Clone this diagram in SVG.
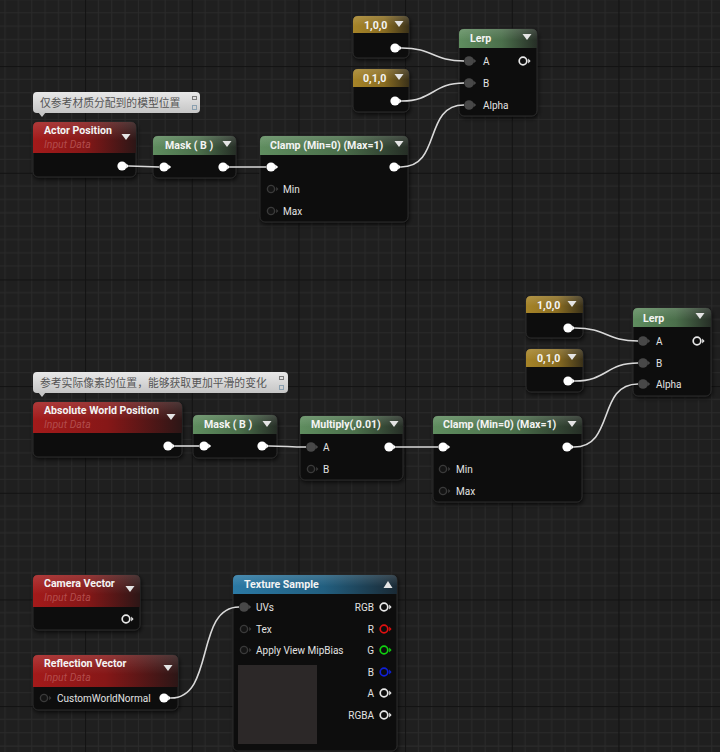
<svg xmlns="http://www.w3.org/2000/svg" width="720" height="752" viewBox="0 0 720 752">
<defs>
<style>
.body{fill:#111111;stroke:#2a2a2a;stroke-width:1;filter:url(#sh)}
.t{font-family:Roboto,"Liberation Sans",sans-serif;font-weight:bold;font-size:10.6px;fill:#f4f4f4}
.s{font-family:Roboto,"Liberation Sans",sans-serif;font-style:italic;font-size:10.5px;fill:#b24c4c}
.l{font-family:Roboto,"Liberation Sans",sans-serif;font-size:10px;fill:#e2e2e2}
.c{font-family:"Noto Sans CJK SC","Noto Sans",sans-serif;font-size:10.8px;fill:#555555}
.wire{fill:none;stroke:#d9d9d9;stroke-width:1.6}
.gl{fill:url(#gloss)}
.dd{fill:#e4e4e4}
</style>
<pattern id="grid" patternUnits="userSpaceOnUse" x="85.1" y="66.1" width="106.667" height="106.667">
<rect width="106.667" height="106.667" fill="#1f1f1f"/>
<path d="M13.33 0V107M26.67 0V107M40 0V107M53.33 0V107M66.67 0V107M80 0V107M93.33 0V107M0 13.33H107M0 26.67H107M0 40H107M0 53.33H107M0 66.67H107M0 80H107M0 93.33H107" stroke="#2a2a2a" stroke-width="1"/>
<path d="M0.5 0V107M0 0.5H107" stroke="#121212" stroke-width="1"/>
</pattern>
<filter id="sh" x="-10%" y="-10%" width="125%" height="135%">
<feDropShadow dx="1" dy="2" stdDeviation="2" flood-color="#000" flood-opacity="0.7"/>
</filter>
<linearGradient id="hRed" x1="0" y1="0" x2="1" y2="0">
<stop offset="0" stop-color="#a31a1a"/><stop offset="0.5" stop-color="#861717"/><stop offset="1" stop-color="#2c1616"/>
</linearGradient>
<linearGradient id="hGreen" x1="0" y1="0" x2="1" y2="0">
<stop offset="0" stop-color="#5f8d5f"/><stop offset="0.55" stop-color="#4b6f4b"/><stop offset="1" stop-color="#262e26"/>
</linearGradient>
<linearGradient id="hGold" x1="0" y1="0" x2="1" y2="0">
<stop offset="0" stop-color="#a68428"/><stop offset="0.55" stop-color="#8a6d22"/><stop offset="1" stop-color="#3a3119"/>
</linearGradient>
<linearGradient id="hBlue" x1="0" y1="0" x2="1" y2="0">
<stop offset="0" stop-color="#2b79a4"/><stop offset="0.55" stop-color="#225f80"/><stop offset="1" stop-color="#1a2a35"/>
</linearGradient>
<linearGradient id="gloss" x1="0" y1="0" x2="0" y2="1">
<stop offset="0" stop-color="#fff" stop-opacity="0.14"/><stop offset="0.6" stop-color="#fff" stop-opacity="0"/>
</linearGradient>
<linearGradient id="cg" x1="0" y1="0" x2="0" y2="1">
<stop offset="0" stop-color="#e8e8e8"/><stop offset="1" stop-color="#c6c6c6"/>
</linearGradient>
<g id="pOn"><circle r="4.6" fill="#ffffff"/><path d="M4.2 -2.6L7.2 0L4.2 2.6Z" fill="#ffffff"/></g>
<g id="pOff"><circle r="3.6" fill="#141414" stroke="#3a3a3a" stroke-width="1.4"/><path d="M5.2 -2.2L7.4 0L5.2 2.2Z" fill="#3a3a3a"/></g>
<g id="pGray"><circle r="4.8" fill="#484848"/><path d="M4.4 -2.6L7.2 0L4.4 2.6Z" fill="#484848"/></g>
<g id="pOut"><circle r="3.8" fill="none" stroke="currentColor" stroke-width="1.7"/><path d="M5.2 -2.4L7.6 0L5.2 2.4Z" fill="currentColor"/></g>
<path id="ddn" d="M-4.5 -3H4.5L0 3Z"/>
</defs>

<rect width="720" height="752" fill="url(#grid)"/>

<g id="comment-1">
<rect x="33" y="92" width="167" height="21" rx="4" fill="url(#cg)"/>
<path d="M38 112H46L42 117Z" fill="#c6c6c6"/>
<text class="c" x="40" y="107">仅参考材质分配到的模型位置</text>
<rect x="192.5" y="96.5" width="4" height="3" fill="none" stroke="#7a7a7a" stroke-width="1"/>
<rect x="192.5" y="105.5" width="4" height="4" fill="none" stroke="#8aa0b0" stroke-width="1"/>
</g>

<g id="actor-position">
<rect class="body" x="33" y="122" width="103" height="55" rx="5"/>
<path fill="url(#hRed)" d="M33 153V127Q33 122 38 122H131Q136 122 136 127V153Z"/>
<path class="gl" d="M33 153V127Q33 122 38 122H131Q136 122 136 127V153Z"/>
<text class="t" x="44" y="134">Actor Position</text>
<text class="s" x="44" y="148">Input Data</text>
<use href="#ddn" class="dd" x="126" y="137"/>
<use href="#pOn" x="122" y="166"/>
</g>

<g id="mask-1">
<rect class="body" x="153" y="136" width="83" height="42" rx="5"/>
<path fill="url(#hGreen)" d="M153 155V141Q153 136 158 136H231Q236 136 236 141V155Z"/>
<path class="gl" d="M153 155V141Q153 136 158 136H231Q236 136 236 141V155Z"/>
<text class="t" x="165" y="149">Mask ( B )</text>
<use href="#ddn" class="dd" x="227" y="144"/>
<use href="#pOn" x="164" y="167"/>
<use href="#pOn" x="223" y="167"/>
</g>

<g id="clamp-1">
<rect class="body" x="260" y="136" width="148" height="86" rx="5"/>
<path fill="url(#hGreen)" d="M260 155V141Q260 136 265 136H403Q408 136 408 141V155Z"/>
<path class="gl" d="M260 155V141Q260 136 265 136H403Q408 136 408 141V155Z"/>
<text class="t" x="270" y="149">Clamp (Min=0) (Max=1)</text>
<use href="#ddn" class="dd" x="399" y="144"/>
<use href="#pOn" x="271" y="167"/>
<use href="#pOn" x="394" y="167"/>
<use href="#pOff" x="271" y="189"/>
<text class="l" x="283" y="192.5">Min</text>
<use href="#pOff" x="271" y="211"/>
<text class="l" x="283" y="214.5">Max</text>
</g>

<g id="const-100-1">
<rect class="body" x="353" y="16" width="56" height="42" rx="5"/>
<path fill="url(#hGold)" d="M353 33V21Q353 16 358 16H404Q409 16 409 21V33Z"/>
<path class="gl" d="M353 33V21Q353 16 358 16H404Q409 16 409 21V33Z"/>
<text class="t" x="364" y="28.5">1,0,0</text>
<use href="#ddn" class="dd" x="399" y="24"/>
<use href="#pOn" x="395" y="48"/>
</g>

<g id="const-010-1">
<rect class="body" x="353" y="69" width="56" height="43" rx="5"/>
<path fill="url(#hGold)" d="M353 87V74Q353 69 358 69H404Q409 69 409 74V87Z"/>
<path class="gl" d="M353 87V74Q353 69 358 69H404Q409 69 409 74V87Z"/>
<text class="t" x="363" y="82">0,1,0</text>
<use href="#ddn" class="dd" x="399" y="77"/>
<use href="#pOn" x="395" y="101"/>
</g>

<g id="lerp-1">
<rect class="body" x="459" y="29" width="78" height="87" rx="5"/>
<path fill="url(#hGreen)" d="M459 48V34Q459 29 464 29H532Q537 29 537 34V48Z"/>
<path class="gl" d="M459 48V34Q459 29 464 29H532Q537 29 537 34V48Z"/>
<text class="t" x="470" y="42">Lerp</text>
<use href="#ddn" class="dd" x="527" y="37"/>
<use href="#pGray" x="469" y="61"/>
<text class="l" x="483" y="64.5">A</text>
<use href="#pGray" x="469" y="83"/>
<text class="l" x="483" y="86.5">B</text>
<use href="#pGray" x="469" y="105"/>
<text class="l" x="483" y="108.5">Alpha</text>
<use href="#pOut" x="523" y="61" color="#e8e8e8"/>
</g>

<g id="comment-2">
<rect x="33" y="372" width="255" height="21" rx="4" fill="url(#cg)"/>
<path d="M38 392H46L42 397Z" fill="#c6c6c6"/>
<text class="c" x="40" y="387">参考实际像素的位置，能够获取更加平滑的变化</text>
<rect x="279.5" y="376.5" width="4" height="3" fill="none" stroke="#7a7a7a" stroke-width="1"/>
<rect x="279.5" y="385.5" width="4" height="4" fill="none" stroke="#8aa0b0" stroke-width="1"/>
</g>

<g id="absolute-world-position">
<rect class="body" x="33" y="402" width="149" height="55" rx="5"/>
<path fill="url(#hRed)" d="M33 433V407Q33 402 38 402H177Q182 402 182 407V433Z"/>
<path class="gl" d="M33 433V407Q33 402 38 402H177Q182 402 182 407V433Z"/>
<text class="t" x="44" y="414">Absolute World Position</text>
<text class="s" x="44" y="428">Input Data</text>
<use href="#ddn" class="dd" x="171" y="417"/>
<use href="#pOn" x="168" y="446"/>
</g>

<g id="mask-2">
<rect class="body" x="193" y="415" width="84" height="43" rx="5"/>
<path fill="url(#hGreen)" d="M193 434V420Q193 415 198 415H272Q277 415 277 420V434Z"/>
<path class="gl" d="M193 434V420Q193 415 198 415H272Q277 415 277 420V434Z"/>
<text class="t" x="204" y="428">Mask ( B )</text>
<use href="#ddn" class="dd" x="267" y="424"/>
<use href="#pOn" x="204" y="446"/>
<use href="#pOn" x="262" y="446"/>
</g>

<g id="multiply">
<rect class="body" x="300" y="416" width="103" height="64" rx="5"/>
<path fill="url(#hGreen)" d="M300 434V421Q300 416 305 416H398Q403 416 403 421V434Z"/>
<path class="gl" d="M300 434V421Q300 416 305 416H398Q403 416 403 421V434Z"/>
<text class="t" x="311" y="428">Multiply(,0.01)</text>
<use href="#ddn" class="dd" x="394" y="424"/>
<use href="#pGray" x="311" y="447"/>
<text class="l" x="323" y="450.5">A</text>
<use href="#pOff" x="311" y="469"/>
<text class="l" x="323" y="472.5">B</text>
<use href="#pOn" x="389" y="447"/>
</g>

<g id="clamp-2">
<rect class="body" x="433" y="416" width="149" height="86" rx="5"/>
<path fill="url(#hGreen)" d="M433 434V421Q433 416 438 416H577Q582 416 582 421V434Z"/>
<path class="gl" d="M433 434V421Q433 416 438 416H577Q582 416 582 421V434Z"/>
<text class="t" x="443" y="428">Clamp (Min=0) (Max=1)</text>
<use href="#ddn" class="dd" x="572" y="424"/>
<use href="#pOn" x="443" y="447"/>
<use href="#pOn" x="567" y="447"/>
<use href="#pOff" x="443" y="469"/>
<text class="l" x="456" y="472.5">Min</text>
<use href="#pOff" x="443" y="491"/>
<text class="l" x="456" y="494.5">Max</text>
</g>

<g id="const-100-2">
<rect class="body" x="526" y="296" width="57" height="42" rx="5"/>
<path fill="url(#hGold)" d="M526 313V301Q526 296 531 296H578Q583 296 583 301V313Z"/>
<path class="gl" d="M526 313V301Q526 296 531 296H578Q583 296 583 301V313Z"/>
<text class="t" x="537" y="308.5">1,0,0</text>
<use href="#ddn" class="dd" x="572" y="304"/>
<use href="#pOn" x="568" y="328"/>
</g>

<g id="const-010-2">
<rect class="body" x="526" y="349" width="57" height="43" rx="5"/>
<path fill="url(#hGold)" d="M526 367V354Q526 349 531 349H578Q583 349 583 354V367Z"/>
<path class="gl" d="M526 367V354Q526 349 531 349H578Q583 349 583 354V367Z"/>
<text class="t" x="537" y="362">0,1,0</text>
<use href="#ddn" class="dd" x="572" y="357"/>
<use href="#pOn" x="568" y="381"/>
</g>

<g id="lerp-2">
<rect class="body" x="633" y="308" width="78" height="88" rx="5"/>
<path fill="url(#hGreen)" d="M633 327V313Q633 308 638 308H706Q711 308 711 313V327Z"/>
<path class="gl" d="M633 327V313Q633 308 638 308H706Q711 308 711 313V327Z"/>
<text class="t" x="643" y="322">Lerp</text>
<use href="#ddn" class="dd" x="700" y="316"/>
<use href="#pGray" x="643" y="341"/>
<text class="l" x="656" y="344.5">A</text>
<use href="#pGray" x="643" y="363"/>
<text class="l" x="656" y="366.5">B</text>
<use href="#pGray" x="643" y="384"/>
<text class="l" x="656" y="387.5">Alpha</text>
<use href="#pOut" x="697" y="341" color="#e8e8e8"/>
</g>

<g id="camera-vector">
<rect class="body" x="33" y="575" width="107" height="55" rx="5"/>
<path fill="url(#hRed)" d="M33 607V580Q33 575 38 575H135Q140 575 140 580V607Z"/>
<path class="gl" d="M33 607V580Q33 575 38 575H135Q140 575 140 580V607Z"/>
<text class="t" x="44" y="587">Camera Vector</text>
<text class="s" x="44" y="601">Input Data</text>
<use href="#ddn" class="dd" x="130" y="589"/>
<use href="#pOut" x="126" y="619" color="#e8e8e8"/>
</g>

<g id="reflection-vector">
<rect class="body" x="33" y="655" width="145" height="55" rx="5"/>
<path fill="url(#hRed)" d="M33 687V660Q33 655 38 655H173Q178 655 178 660V687Z"/>
<path class="gl" d="M33 687V660Q33 655 38 655H173Q178 655 178 660V687Z"/>
<text class="t" x="44" y="667">Reflection Vector</text>
<text class="s" x="44" y="681">Input Data</text>
<use href="#ddn" class="dd" x="168" y="668"/>
<use href="#pOff" x="44" y="698"/>
<text class="l" x="57" y="701.5">CustomWorldNormal</text>
<use href="#pOn" x="164" y="698"/>
</g>

<g id="texture-sample">
<rect class="body" x="233" y="575" width="164" height="176" rx="5"/>
<path fill="url(#hBlue)" d="M233 594V580Q233 575 238 575H392Q397 575 397 580V594Z"/>
<path class="gl" d="M233 594V580Q233 575 238 575H392Q397 575 397 580V594Z"/>
<text class="t" x="244" y="588">Texture Sample</text>
<path d="M383.5 588H392.5L388 581Z" class="dd"/>
<use href="#pGray" x="244" y="607"/>
<text class="l" x="256" y="610.5">UVs</text>
<use href="#pOff" x="244" y="629"/>
<text class="l" x="256" y="632.5">Tex</text>
<use href="#pOff" x="244" y="650"/>
<text class="l" x="256" y="653.5">Apply View MipBias</text>
<rect x="238" y="665" width="79" height="79" fill="#2c2828"/>
<text class="l" x="374" y="610.5" text-anchor="end">RGB</text>
<use href="#pOut" x="384" y="607" color="#e8e8e8"/>
<text class="l" x="374" y="632.5" text-anchor="end">R</text>
<use href="#pOut" x="384" y="629" color="#e01010"/>
<text class="l" x="374" y="653.5" text-anchor="end">G</text>
<use href="#pOut" x="384" y="650" color="#10d010"/>
<text class="l" x="374" y="675.5" text-anchor="end">B</text>
<use href="#pOut" x="384" y="672" color="#1020d8"/>
<text class="l" x="374" y="696.5" text-anchor="end">A</text>
<use href="#pOut" x="384" y="693" color="#e8e8e8"/>
<text class="l" x="374" y="718.5" text-anchor="end">RGBA</text>
<use href="#pOut" x="384" y="715" color="#e8e8e8"/>
</g>

<g id="connectors">
<path class="wire" d="M129 166C144 166 145 167 159 167"/>
<path class="wire" d="M230 167H266"/>
<path class="wire" d="M402 48C433 48 433 61 464 61"/>
<path class="wire" d="M402 101C433 101 433 83 464 83"/>
<path class="wire" d="M401 167C442 167 423 105 464 105"/>
<path class="wire" d="M175 446H199"/>
<path class="wire" d="M269 446C287 446 288 447 306 447"/>
<path class="wire" d="M396 447H438"/>
<path class="wire" d="M575 328C607 328 606 341 638 341"/>
<path class="wire" d="M575 381C607 381 606 363 638 363"/>
<path class="wire" d="M574 447C615 447 597 384 638 384"/>
<path class="wire" d="M171 698C215 698 195 607 239 607"/>
</g>
</svg>
